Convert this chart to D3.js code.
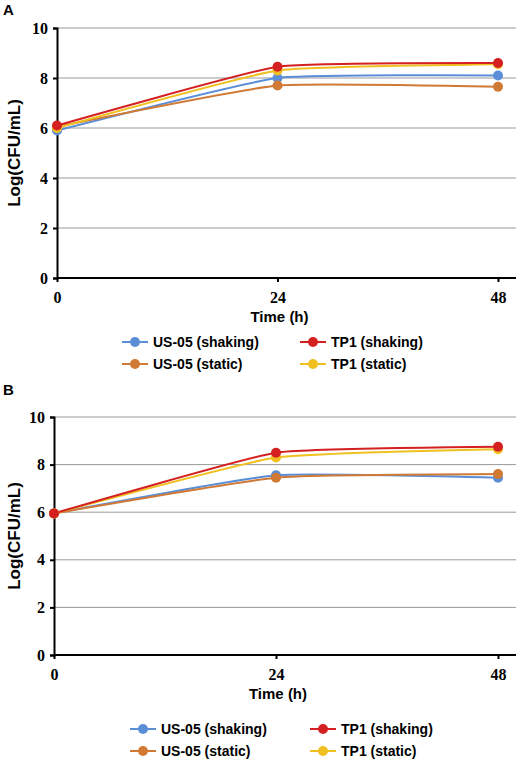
<!DOCTYPE html>
<html>
<head>
<meta charset="utf-8">
<script src="https://cdn.jsdelivr.net/npm/d3@7"></script>
<style>
  body { margin: 0; background: #fff; }
  svg { display: block; }
</style>
</head>
<body>
<svg id="chart" width="529" height="764"></svg>
<script>
// data
var times = [0, 24, 48];
var seriesNames = ["US-05 (shaking)", "US-05 (static)", "TP1 (static)", "TP1 (shaking)"];
var seriesColors = ["#5b8ed6", "#d07a35", "#f0c020", "#d42020"];
var panelA = [
  [5.9, 8.0, 8.1],
  [6.05, 7.7, 7.65],
  [6.0, 8.3, 8.55],
  [6.1, 8.45, 8.6]
];
var panelB = [
  [5.95, 7.55, 7.45],
  [5.95, 7.45, 7.6],
  [5.95, 8.3, 8.65],
  [5.95, 8.5, 8.75]
];
var yTicks = [0, 2, 4, 6, 8, 10];

var svg = d3.select("#chart");

function drawPanel(label, data, box) {
  var g = svg.append("g");
  var x = d3.scaleLinear().domain([0, 48]).range([box.x0, box.x1]);
  var y = d3.scaleLinear().domain([0, 10]).range([box.y0, box.y1]);

  g.append("text").attr("x", 3).attr("y", box.top + 15)
    .attr("font-family", "Liberation Sans, Arial").attr("font-weight", "bold")
    .attr("font-size", 15).text(label);

  // gridlines
  g.selectAll(".grid").data(yTicks.slice(1)).enter().append("line")
    .attr("x1", box.x0).attr("x2", box.right)
    .attr("y1", d => y(d)).attr("y2", d => y(d))
    .attr("stroke", "#999").attr("stroke-width", 1);

  // axes
  var yAxis = g.append("g").attr("transform", "translate(" + box.x0 + ",0)")
    .call(d3.axisLeft(y).tickValues(yTicks).tickSize(4));
  var xAxis = g.append("g").attr("transform", "translate(0," + box.y0 + ")")
    .call(d3.axisBottom(x).tickValues(times).tickSize(4));
  xAxis.select(".domain").attr("d", "M" + box.x0 + ",0H" + box.right);
  [xAxis, yAxis].forEach(a => {
    a.selectAll("path, line").attr("stroke", "#000").attr("stroke-width", 2);
    a.selectAll("text").attr("font-family", "Liberation Serif, Times New Roman")
      .attr("font-weight", "bold").attr("font-size", 16).attr("fill", "#000");
  });
  xAxis.selectAll("text").attr("dy", "1.1em");
  yAxis.selectAll("text").attr("dx", "-2");

  g.append("text").attr("x", (box.x0 + box.x1) / 2 + 2).attr("y", box.y0 + 44)
    .attr("text-anchor", "middle").attr("font-family", "Liberation Sans, Arial")
    .attr("font-weight", "bold").attr("font-size", 15).text("Time (h)");
  g.append("text")
    .attr("transform", "translate(" + 20 + "," + (box.y0 + box.y1) / 2 + ") rotate(-90)")
    .attr("text-anchor", "middle").attr("font-family", "Liberation Sans, Arial")
    .attr("font-weight", "bold").attr("font-size", 17).text("Log(CFU/mL)");

  var line = d3.line().x((d, i) => x(times[i])).y(d => y(d)).curve(d3.curveCardinal.tension(0.6));
  data.forEach((s, k) => {
    g.append("path").attr("d", line(s)).attr("fill", "none")
      .attr("stroke", seriesColors[k]).attr("stroke-width", 2);
  });
  data.forEach((s, k) => {
    g.selectAll(null).data(s).enter().append("circle")
      .attr("cx", (d, i) => x(times[i])).attr("cy", d => y(d)).attr("r", 5)
      .attr("fill", seriesColors[k]);
  });

  // legend: order in reference
  var legendOrder = [0, 3, 1, 2];
  legendOrder.forEach((k, j) => {
    var col = j % 2, row = Math.floor(j / 2);
    var lx = box.legX[col], ly = box.legY + row * 22;
    g.append("line").attr("x1", lx).attr("x2", lx + 26).attr("y1", ly).attr("y2", ly)
      .attr("stroke", seriesColors[k]).attr("stroke-width", 2);
    g.append("circle").attr("cx", lx + 13).attr("cy", ly).attr("r", 5).attr("fill", seriesColors[k]);
    g.append("text").attr("x", lx + 31).attr("y", ly + 5)
      .attr("font-family", "Liberation Sans, Arial").attr("font-weight", "bold")
      .attr("font-size", 14).text(seriesNames[k]);
  });
}

drawPanel("A", panelA, { top: 0, x0: 57, x1: 498, right: 516, y0: 278, y1: 28, legX: [122, 300], legY: 342 });
drawPanel("B", panelB, { top: 380, x0: 54, x1: 498, right: 516, y0: 655, y1: 417, legX: [130, 310], legY: 729 });
</script>
</body>
</html>
